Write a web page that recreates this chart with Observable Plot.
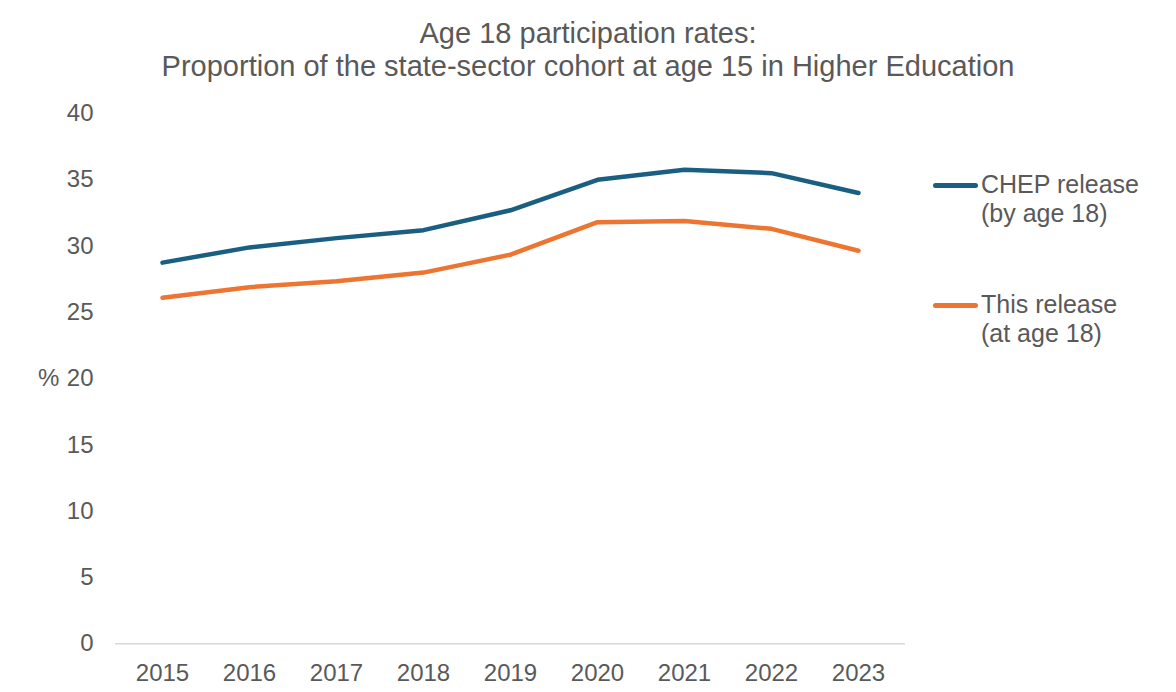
<!DOCTYPE html>
<html>
<head>
<meta charset="utf-8">
<script src="https://cdn.jsdelivr.net/npm/d3@7"></script>
<script src="https://cdn.jsdelivr.net/npm/@observablehq/plot@0.6"></script>
<style>
  html, body { margin: 0; padding: 0; background: #fff; }
  body { width: 1176px; height: 692px; position: relative; overflow: hidden; font-family: "Liberation Sans", Arial, sans-serif; color: #595959; }
  #title { height: 95px; box-sizing: border-box; padding-top: 17px; text-align: center; font-size: 29px; line-height: 33px; color: #595959; }
  #legend { position: absolute; left: 933px; top: 0; font-size: 25px; line-height: 28.5px; color: #595959; }
  .item { position: absolute; left: 0; white-space: nowrap; }
  .sw { position: absolute; left: 0; width: 45px; height: 4.5px; border-radius: 2.5px; }
  .lab { position: absolute; left: 48px; }
  #ylab { position: absolute; left: 38px; top: 364px; font-size: 24px; color: #595959; }
</style>
</head>
<body>
<div id="title">Age 18 participation rates:<br>Proportion of the state-sector cohort at age 15 in Higher Education</div>
<div id="chart"></div>
<div id="ylab">%</div>
<div id="legend"></div>
<script>
const years = ["2015","2016","2017","2018","2019","2020","2021","2022","2023"];
const chepValues = [28.75, 29.9, 30.6, 31.2, 32.7, 35.0, 35.75, 35.5, 34.0];
const thisValues = [26.1, 26.9, 27.35, 28.0, 29.35, 31.8, 31.9, 31.3, 29.65];
const seriesNames = ["CHEP release\n(by age 18)", "This release\n(at age 18)"];
const seriesColors = ["#1a5f82", "#ed7532"];
const yTicks = [0, 5, 10, 15, 20, 25, 30, 35, 40];

const data = [];
years.forEach((y, i) => {
  data.push({year: y, value: chepValues[i], series: seriesNames[0]});
  data.push({year: y, value: thisValues[i], series: seriesNames[1]});
});

const plot = Plot.plot({
  width: 1176,
  height: 597,
  marginTop: 18,
  marginBottom: 48.7,
  marginLeft: 115,
  marginRight: 271,
  style: {fontFamily: "'Liberation Sans', Arial, sans-serif", fontSize: "24px", color: "#595959", background: "#fff"},
  x: {type: "point", domain: years, padding: 0.5, label: null},
  y: {domain: [0, 40], ticks: yTicks, label: null},
  color: {domain: seriesNames, range: seriesColors},
  marks: [
    Plot.axisY({ticks: yTicks, tickSize: 0, tickPadding: 22, label: null, fontSize: 24, fill: "#595959"}),
    Plot.axisX({tickSize: 0, tickPadding: 20, label: null, fontSize: 24, fill: "#595959"}),
    Plot.ruleY([0], {stroke: "#d9d9d9", strokeWidth: 1.5}),
    Plot.lineY(data, {x: "year", y: "value", z: "series", stroke: "series", strokeWidth: 4.5, strokeLinecap: "round", strokeLinejoin: "round"})
  ]
});
document.getElementById("chart").appendChild(plot);

const legend = document.getElementById("legend");
const tops = [185.3, 305.3];
seriesNames.forEach((name, i) => {
  const item = document.createElement("div");
  item.className = "item";
  item.style.top = tops[i] + "px";
  const sw = document.createElement("div");
  sw.className = "sw";
  sw.style.background = seriesColors[i];
  sw.style.top = "-2.25px";
  const lab = document.createElement("div");
  lab.className = "lab";
  lab.style.top = "-15px";
  lab.innerHTML = name.replace("\n", "<br>");
  item.appendChild(sw);
  item.appendChild(lab);
  legend.appendChild(item);
});
</script>
</body>
</html>
